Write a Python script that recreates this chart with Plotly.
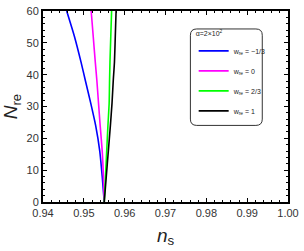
import plotly.graph_objects as go

# Data
n_re_levels = [0, 8, 16, 24, 31, 38, 44, 52, 60]
ns_blue    = [0.9550, 0.9545, 0.9539, 0.9529, 0.9517, 0.9504, 0.9493, 0.9477, 0.9458]
ns_magenta = [0.9550, 0.9548, 0.9545, 0.9540, 0.9536, 0.9532, 0.9528, 0.9523, 0.9518]
ns_green   = [0.9550, 0.9553, 0.9556, 0.9559, 0.9562, 0.9563, 0.9564, 0.9566, 0.9568]
ns_black   = [0.9550, 0.9555, 0.9560, 0.9565, 0.9569, 0.9572, 0.9575, 0.9577, 0.9579]

series_names = ["w<sub>re</sub> = −1/3", "w<sub>re</sub> = 0", "w<sub>re</sub> = 2/3", "w<sub>re</sub> = 1"]
series_values = [ns_blue, ns_magenta, ns_green, ns_black]
series_colors = ["#0000ff", "#ff00ff", "#00ff00", "#000000"]

x_ticks = [0.94, 0.95, 0.96, 0.97, 0.98, 0.99, 1.00]
x_ticklabels = ["0.94", "0.95", "0.96", "0.97", "0.98", "0.99", "1.00"]
y_ticks = [0, 10, 20, 30, 40, 50, 60]

fig = go.Figure()
for i, (name, vals, col) in enumerate(zip(series_names, series_values, series_colors)):
    fig.add_trace(go.Scatter(x=vals, y=n_re_levels, mode="lines", name=name,
                             legendgroup=f"g{i}",
                             line=dict(color=col, width=1.6, shape="spline", smoothing=0.6)))

font_family = "Liberation Sans, Arial, sans-serif"

axis_common = dict(
    showline=True, linecolor="black", linewidth=2, mirror="allticks",
    ticks="inside", ticklen=4, tickwidth=1.2, tickcolor="black",
    showgrid=False, zeroline=False,
    tickfont=dict(family=font_family, size=11, color="#333333"),
)

fig.update_xaxes(range=[0.94, 1.00], tickvals=x_ticks, ticktext=x_ticklabels,
                 minor=dict(ticks="inside", ticklen=2, dtick=0.002, tickcolor="black", tickwidth=1),
                 title=dict(text="<i>n</i><sub>s</sub>", font=dict(family=font_family, size=19, color="#222"), standoff=10),
                 **axis_common)
fig.update_yaxes(range=[0, 60], tickvals=y_ticks,
                 minor=dict(ticks="inside", ticklen=2, dtick=2, tickcolor="black", tickwidth=1),
                 title=dict(text="<i>N</i><sub>re</sub>", font=dict(family=font_family, size=19, color="#222"), standoff=6),
                 **axis_common)

# rounded legend frame
x0, x1, y0, y1 = 0.6016, 0.895, 0.401, 0.906
rx, ry = 0.026, 0.033
path = (f"M {x0+rx},{y1} L {x1-rx},{y1} Q {x1},{y1} {x1},{y1-ry} "
        f"L {x1},{y0+ry} Q {x1},{y0} {x1-rx},{y0} L {x0+rx},{y0} "
        f"Q {x0},{y0} {x0},{y0+ry} L {x0},{y1-ry} Q {x0},{y1} {x0+rx},{y1} Z")
fig.add_shape(type="path", path=path, xref="paper", yref="paper",
              line=dict(color="#333333", width=1), fillcolor="rgba(0,0,0,0)")

fig.update_layout(
    width=304, height=251,
    margin=dict(l=43, r=12, t=5, b=49),
    plot_bgcolor="white", paper_bgcolor="white",
    font=dict(family=font_family),
    showlegend=True,
    legend=dict(x=0.615, y=0.915, xanchor="left", yanchor="top",
                bgcolor="rgba(0,0,0,0)", borderwidth=0,
                font=dict(family=font_family, size=7, color="#222"),
                title=dict(text="α=2×10<sup>2</sup>", font=dict(family=font_family, size=7, color="#222")),
                itemwidth=30, traceorder="grouped", tracegroupgap=1),
)

fig.write_html("out.html", config={"displayModeBar": False},
               post_script="document.body.style.margin='0px';document.body.style.overflow='hidden';")
